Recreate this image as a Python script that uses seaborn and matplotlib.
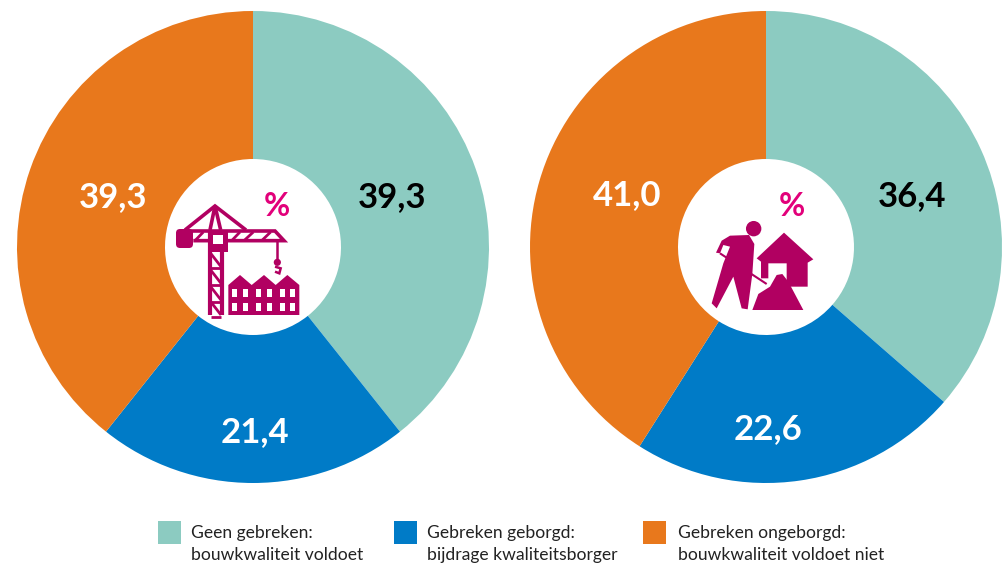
import matplotlib
matplotlib.use('Agg')
import matplotlib.pyplot as plt
from matplotlib.patches import Circle, FancyBboxPatch, Polygon, Rectangle
import seaborn as sns

# values, clockwise from 12 o'clock
left_values = [39.3, 21.4, 39.3]
right_values = [36.4, 22.6, 41.0]
legend_labels = ['Geen gebreken:\nbouwkwaliteit voldoet',
                 'Gebreken geborgd:\nbijdrage kwaliteitsborger',
                 'Gebreken ongeborgd:\nbouwkwaliteit voldoet niet']
label_colors = ['black', 'white', 'white']

palette = sns.color_palette(['#8ccbc1', '#007bc7', '#e8781c'])
ICON = '#b10061'
PCT = '#e2007a'
H = 565

sns.set_theme(style='white')
plt.rcParams['font.family'] = ['Lato', 'DejaVu Sans']

fig = plt.figure(figsize=(10.06, 5.65), dpi=100)
ax = fig.add_axes([0, 0, 1, 1])
ax.set_xlim(0, 1006)
ax.set_ylim(0, H)
ax.axis('off')


def donut(values, cx, cy, label_pos):
    ax.pie(values, colors=palette, startangle=90, counterclock=False,
           center=(cx, H - cy), radius=236, frame=True,
           wedgeprops={'width': 148, 'linewidth': 0})
    for v, (x, y), c in zip(values, label_pos, label_colors):
        ax.text(x, H - y, f'{v:.1f}'.replace('.', ','), color=c, fontsize=25,
                fontweight='bold', ha='center', va='center')


donut(left_values, 253, 247, [(392, 197), (255, 432), (113, 197)])
donut(right_values, 766, 247, [(912, 196), (768, 429), (627, 195)])
ax.set_xlim(0, 1006)
ax.set_ylim(0, H)
ax.set_aspect('equal')
ax.axis('off')


# icon shapes are given in pixels of a crop, ox/oy is the crop corner
def px(p, ox, oy):
    return (ox + p[0] / 3, H - (oy + p[1] / 3))


def poly(pts, ox, oy, color=ICON, **kw):
    ax.add_patch(Polygon([px(p, ox, oy) for p in pts], closed=True, fc=color, ec='none', zorder=5, **kw))


def stroke(pts, ox, oy, lw=2.6, color=ICON):
    xs, ys = zip(*[px(p, ox, oy) for p in pts])
    ax.plot(xs, ys, color=color, lw=lw, solid_capstyle='butt', solid_joinstyle='miter', zorder=5)


# crane
ox, oy = 160, 170
ax.add_patch(FancyBboxPatch(px((48, 234), ox, oy), 17, 19, boxstyle='round,pad=0,rounding_size=4',
                            fc=ICON, ec='none', zorder=5))
stroke([(70, 183), (345, 183), (372, 212), (100, 212)], ox, oy)
stroke([(75, 180), (165, 108), (258, 180)], ox, oy)
stroke([(165, 108), (150, 180)], ox, oy)
stroke([(165, 108), (182, 180)], ox, oy)
stroke([(150, 180), (150, 435)], ox, oy, lw=3)
stroke([(185, 180), (185, 435)], ox, oy, lw=3)
poly([(145, 180), (205, 180), (205, 245), (145, 245)], ox, oy)
poly([(160, 195), (188, 195), (188, 223), (160, 223)], ox, oy, color='white')
for a, b in [((105, 212), (130, 186)), ((215, 212), (240, 186)), ((252, 212), (280, 186)), ((305, 212), (332, 186))]:
    stroke([a, b], ox, oy, lw=2)
for y in [250, 300, 350, 395]:
    stroke([(152, y), (183, y + 40)], ox, oy, lw=2)
    stroke([(152, y + 45), (183, y + 45)], ox, oy, lw=2)
stroke([(352, 212), (352, 270)], ox, oy, lw=1.8)
ax.add_patch(Circle(px((352, 277), ox, oy), 3.6, fc=ICON, ec='none', zorder=5))
stroke([(345, 290), (362, 295), (358, 310), (345, 305)], ox, oy, lw=1.8)

# houses
poly([(205, 345), (240, 315), (275, 345), (312, 315), (347, 345), (382, 315), (418, 345),
      (418, 435), (205, 435)], ox, oy)
for x in [217, 248, 288, 320, 360, 390]:
    for y in [357, 398]:
        poly([(x, y), (x + 15, y), (x + 15, y + 25), (x, y + 25)], ox, oy, color='white')

# worker
ox, oy = 675, 170
ax.add_patch(Circle(px((236, 176), ox, oy), 7.7, fc=ICON, ec='none', zorder=5))
poly([(123, 248), (140, 212), (165, 197), (222, 195), (238, 222), (232, 312), (218, 418), (200, 415),
      (175, 320), (125, 415), (110, 400), (145, 280), (165, 230), (145, 225), (135, 250)], ox, oy)
poly([(245, 265), (327, 188), (415, 268), (398, 278), (398, 350), (335, 350), (335, 280), (280, 280),
      (280, 325), (258, 325), (258, 275)], ox, oy)
stroke([(135, 250), (275, 342)], ox, oy, lw=1.5)
poly([(232, 420), (250, 372), (285, 350), (305, 315), (322, 312), (340, 335), (385, 420)], ox, oy)

ax.text(277, H - 206, '%', color=PCT, fontsize=23, fontweight='bold', ha='center', va='center', zorder=6)
ax.text(792, H - 206, '%', color=PCT, fontsize=23, fontweight='bold', ha='center', va='center', zorder=6)

# legend
for x, tx, c, lab in zip([158, 394, 643], [191, 427, 678], palette, legend_labels):
    ax.add_patch(Rectangle((x, H - 544), 23, 23, fc=c, ec='none'))
    ax.text(tx, H - 544, lab, fontsize=12.6, color='#222222', ha='left', va='center', linespacing=1.5)

fig.savefig('out.png', dpi=100)
